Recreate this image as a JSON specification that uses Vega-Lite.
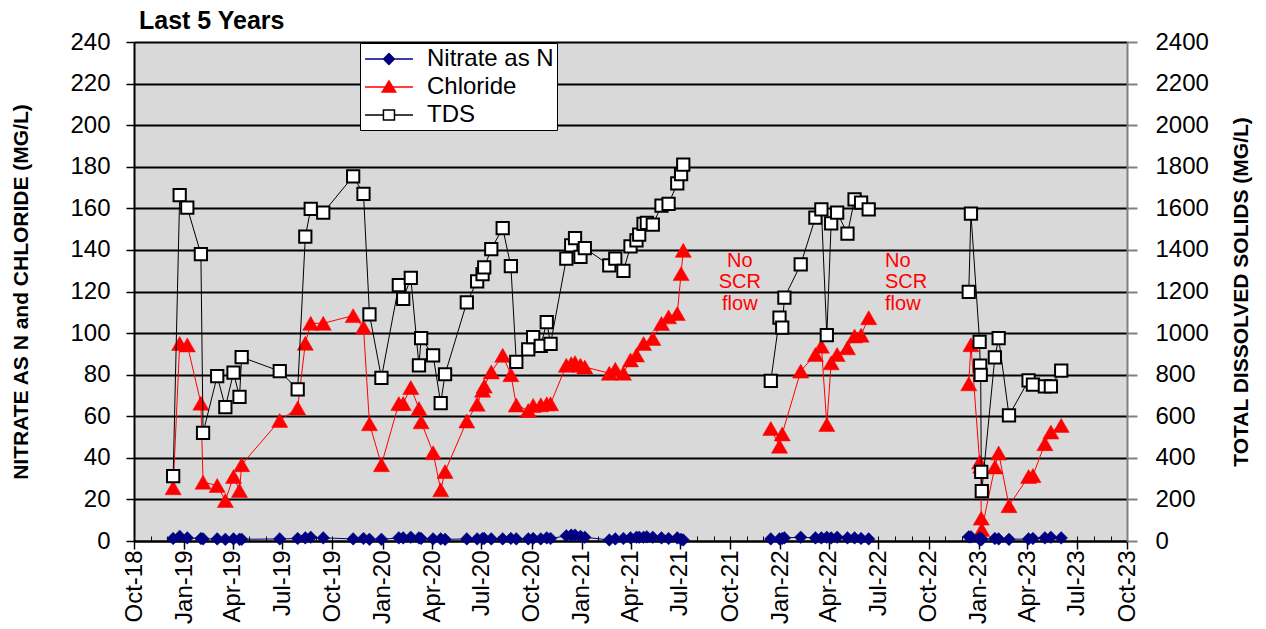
{
  "$schema": "https://vega.github.io/schema/vega-lite/v6.json",
  "width": 993,
  "height": 499,
  "autosize": {"type": "none"},
  "padding": {"left": 134, "top": 42, "right": 139, "bottom": 88},
  "background": "white",
  "title": {"text": "Last 5 Years", "anchor": "start", "frame": "group", "dx": 5, "offset": -24, "baseline": "alphabetic", "fontSize": 25, "font": "Liberation Sans", "fontWeight": "bold", "color": "black"},
  "config": {
    "view": {"fill": "#D9D9D9", "stroke": null},
    "axis": {"labelFont": "Liberation Sans", "titleFont": "Liberation Sans", "labelColor": "#000000", "titleColor": "#000000", "labelFontSize": 24, "titleFontSize": 21, "titleFontWeight": "bold"}
  },
  "datasets": {
    "samples": [
      {"date": "2018-12-12", "nitrate": 1.2, "chloride": 25.6, "tds": 312, "period": 1},
      {"date": "2018-12-24", "nitrate": 2.2, "chloride": 95.0, "tds": 1664, "period": 1},
      {"date": "2019-01-07", "nitrate": 1.5, "chloride": 94.3, "tds": 1603, "period": 1},
      {"date": "2019-02-01", "nitrate": 1.2, "chloride": 66.3, "tds": 1380, "period": 1},
      {"date": "2019-02-05", "nitrate": 1.0, "chloride": 28.3, "tds": 520, "period": 1},
      {"date": "2019-03-03", "nitrate": 1.0, "chloride": 26.7, "tds": 793, "period": 1},
      {"date": "2019-03-18", "nitrate": 0.8, "chloride": 19.5, "tds": 644, "period": 1},
      {"date": "2019-04-02", "nitrate": 1.0, "chloride": 31.0, "tds": 810, "period": 1},
      {"date": "2019-04-13", "nitrate": 0.8, "chloride": 24.3, "tds": 693, "period": 1},
      {"date": "2019-04-17", "nitrate": 0.8, "chloride": 36.7, "tds": 884, "period": 1},
      {"date": "2019-06-26", "nitrate": 1.0, "chloride": 58.0, "tds": 817, "period": 1},
      {"date": "2019-07-29", "nitrate": 1.2, "chloride": 64.0, "tds": 729, "period": 1},
      {"date": "2019-08-12", "nitrate": 1.5, "chloride": 95.1, "tds": 1464, "period": 1},
      {"date": "2019-08-22", "nitrate": 1.8, "chloride": 104.7, "tds": 1597, "period": 1},
      {"date": "2019-09-14", "nitrate": 1.5, "chloride": 104.7, "tds": 1579, "period": 1},
      {"date": "2019-11-08", "nitrate": 1.0, "chloride": 108.4, "tds": 1754, "period": 1},
      {"date": "2019-11-27", "nitrate": 1.2, "chloride": 102.8, "tds": 1670, "period": 1},
      {"date": "2019-12-08", "nitrate": 0.8, "chloride": 56.4, "tds": 1090, "period": 1},
      {"date": "2019-12-30", "nitrate": 0.8, "chloride": 36.7, "tds": 785, "period": 1},
      {"date": "2020-01-31", "nitrate": 1.5, "chloride": 66.1, "tds": 1231, "period": 1},
      {"date": "2020-02-08", "nitrate": 1.5, "chloride": 66.1, "tds": 1164, "period": 1},
      {"date": "2020-02-22", "nitrate": 1.8, "chloride": 73.8, "tds": 1265, "period": 1},
      {"date": "2020-03-08", "nitrate": 1.5, "chloride": 63.7, "tds": 845, "period": 1},
      {"date": "2020-03-12", "nitrate": 1.2, "chloride": 57.3, "tds": 976, "period": 1},
      {"date": "2020-04-03", "nitrate": 1.0, "chloride": 42.5, "tds": 893, "period": 1},
      {"date": "2020-04-17", "nitrate": 1.0, "chloride": 24.6, "tds": 663, "period": 1},
      {"date": "2020-04-25", "nitrate": 0.8, "chloride": 33.4, "tds": 802, "period": 1},
      {"date": "2020-06-04", "nitrate": 1.0, "chloride": 57.7, "tds": 1148, "period": 1},
      {"date": "2020-06-23", "nitrate": 1.0, "chloride": 65.8, "tds": 1249, "period": 1},
      {"date": "2020-07-03", "nitrate": 1.2, "chloride": 72.5, "tds": 1284, "period": 1},
      {"date": "2020-07-06", "nitrate": 1.2, "chloride": 74.5, "tds": 1316, "period": 1},
      {"date": "2020-07-19", "nitrate": 1.0, "chloride": 81.3, "tds": 1404, "period": 1},
      {"date": "2020-08-09", "nitrate": 1.0, "chloride": 89.3, "tds": 1505, "period": 1},
      {"date": "2020-08-24", "nitrate": 1.2, "chloride": 80.0, "tds": 1322, "period": 1},
      {"date": "2020-09-03", "nitrate": 1.0, "chloride": 65.4, "tds": 861, "period": 1},
      {"date": "2020-09-25", "nitrate": 1.0, "chloride": 62.8, "tds": 922, "period": 1},
      {"date": "2020-10-04", "nitrate": 1.2, "chloride": 65.2, "tds": 981, "period": 1},
      {"date": "2020-10-18", "nitrate": 1.0, "chloride": 65.5, "tds": 938, "period": 1},
      {"date": "2020-10-29", "nitrate": 1.5, "chloride": 66.0, "tds": 1053, "period": 1},
      {"date": "2020-11-05", "nitrate": 1.2, "chloride": 66.0, "tds": 948, "period": 1},
      {"date": "2020-12-04", "nitrate": 2.5, "chloride": 84.5, "tds": 1358, "period": 1},
      {"date": "2020-12-13", "nitrate": 2.8, "chloride": 85.3, "tds": 1422, "period": 1},
      {"date": "2020-12-20", "nitrate": 2.8, "chloride": 85.8, "tds": 1457, "period": 1},
      {"date": "2020-12-30", "nitrate": 2.2, "chloride": 84.5, "tds": 1366, "period": 1},
      {"date": "2021-01-07", "nitrate": 1.8, "chloride": 83.7, "tds": 1409, "period": 1},
      {"date": "2021-02-21", "nitrate": 0.5, "chloride": 80.7, "tds": 1326, "period": 1},
      {"date": "2021-03-04", "nitrate": 1.0, "chloride": 82.6, "tds": 1358, "period": 1},
      {"date": "2021-03-19", "nitrate": 1.2, "chloride": 80.7, "tds": 1299, "period": 1},
      {"date": "2021-04-01", "nitrate": 1.5, "chloride": 87.1, "tds": 1417, "period": 1},
      {"date": "2021-04-12", "nitrate": 1.8, "chloride": 89.5, "tds": 1446, "period": 1},
      {"date": "2021-04-17", "nitrate": 1.8, "chloride": null, "tds": 1474, "period": 1},
      {"date": "2021-04-25", "nitrate": 1.8, "chloride": 95.0, "tds": 1525, "period": 1},
      {"date": "2021-05-01", "nitrate": 2.0, "chloride": null, "tds": 1530, "period": 1},
      {"date": "2021-05-12", "nitrate": 1.8, "chloride": 97.4, "tds": 1522, "period": 1},
      {"date": "2021-05-28", "nitrate": 1.5, "chloride": 104.6, "tds": 1613, "period": 1},
      {"date": "2021-06-10", "nitrate": 1.2, "chloride": 107.8, "tds": 1621, "period": 1},
      {"date": "2021-06-26", "nitrate": 1.5, "chloride": 109.4, "tds": 1720, "period": 1},
      {"date": "2021-07-03", "nitrate": 0.8, "chloride": 128.6, "tds": 1765, "period": 1},
      {"date": "2021-07-07", "nitrate": 0.5, "chloride": 139.8, "tds": 1810, "period": 1},
      {"date": "2021-12-15", "nitrate": 1.0, "chloride": 54.1, "tds": 770, "period": 2},
      {"date": "2021-12-31", "nitrate": 1.0, "chloride": 45.6, "tds": 1074, "period": 2},
      {"date": "2022-01-05", "nitrate": 1.2, "chloride": 51.5, "tds": 1026, "period": 2},
      {"date": "2022-01-09", "nitrate": 1.5, "chloride": null, "tds": 1170, "period": 2},
      {"date": "2022-02-08", "nitrate": 1.8, "chloride": 81.7, "tds": 1330, "period": 2},
      {"date": "2022-03-07", "nitrate": 1.5, "chloride": 89.7, "tds": 1555, "period": 2},
      {"date": "2022-03-18", "nitrate": 1.5, "chloride": 93.7, "tds": 1595, "period": 2},
      {"date": "2022-03-28", "nitrate": 1.8, "chloride": 56.0, "tds": 990, "period": 2},
      {"date": "2022-04-05", "nitrate": 1.5, "chloride": 85.7, "tds": 1528, "period": 2},
      {"date": "2022-04-16", "nitrate": 1.8, "chloride": 89.7, "tds": 1579, "period": 2},
      {"date": "2022-05-05", "nitrate": 1.5, "chloride": 92.9, "tds": 1478, "period": 2},
      {"date": "2022-05-18", "nitrate": 1.5, "chloride": 98.6, "tds": 1643, "period": 2},
      {"date": "2022-05-30", "nitrate": 1.2, "chloride": 99.0, "tds": 1627, "period": 2},
      {"date": "2022-06-13", "nitrate": 1.0, "chloride": 107.4, "tds": 1595, "period": 2},
      {"date": "2022-12-14", "nitrate": 2.0, "chloride": 75.6, "tds": 1198, "period": 3},
      {"date": "2022-12-18", "nitrate": 2.0, "chloride": 94.4, "tds": 1575, "period": 3},
      {"date": "2023-01-03", "nitrate": 1.5, "chloride": 38.0, "tds": 958, "period": 3},
      {"date": "2023-01-04", "nitrate": 0.5, "chloride": null, "tds": 843, "period": 3},
      {"date": "2023-01-05", "nitrate": 0.8, "chloride": 36.0, "tds": 799, "period": 3},
      {"date": "2023-01-06", "nitrate": 1.0, "chloride": 11.0, "tds": 332, "period": 3},
      {"date": "2023-01-07", "nitrate": 0.8, "chloride": 5.5, "tds": 240, "period": 3},
      {"date": "2023-01-31", "nitrate": 1.2, "chloride": 35.6, "tds": 883, "period": 3},
      {"date": "2023-02-07", "nitrate": 1.0, "chloride": 42.3, "tds": 976, "period": 3},
      {"date": "2023-02-26", "nitrate": 0.8, "chloride": 17.0, "tds": 604, "period": 3},
      {"date": "2023-04-03", "nitrate": 1.0, "chloride": 31.0, "tds": 772, "period": 3},
      {"date": "2023-04-11", "nitrate": 1.2, "chloride": 31.5, "tds": 752, "period": 3},
      {"date": "2023-05-03", "nitrate": 1.5, "chloride": 46.8, "tds": 744, "period": 3},
      {"date": "2023-05-14", "nitrate": 1.8, "chloride": 52.4, "tds": 744, "period": 3},
      {"date": "2023-06-02", "nitrate": 1.5, "chloride": 55.6, "tds": 820, "period": 3}
    ]
  },
  "data": {"name": "samples"},
  "resolve": {"scale": {"y": "independent"}, "axis": {"x": "independent"}},
  "layer": [
    {
      "mark": {"type": "line", "color": "#000080", "strokeWidth": 1},
      "encoding": {
        "x": {"field": "date", "type": "temporal",
          "scale": {"type": "utc", "nice": false, "domain": [{"year": 2018, "month": 10, "date": 1, "utc": true}, {"year": 2023, "month": 10, "date": 1, "utc": true}]},
          "axis": {"orient": "bottom", "tickCount": {"interval": "month", "step": 3}, "format": "%b-%y", "labelAngle": 270, "labelPadding": 1, "labelOverlap": false, "labelFlush": false, "labelBound": false, "tickSize": 8, "tickColor": "#000000", "tickWidth": 1.5, "domainColor": "#000000", "domainWidth": 2, "grid": false, "title": null}},
        "y": {"field": "nitrate", "type": "quantitative",
          "scale": {"domain": [0, 240], "nice": false},
          "axis": {"orient": "left", "values": [0, 20, 40, 60, 80, 100, 120, 140, 160, 180, 200, 220, 240], "title": "NITRATE AS N and CHLORIDE (MG/L)", "titleAngle": 270, "titleBaseline": "bottom", "titlePadding": 38, "grid": true, "gridColor": "#000000", "gridWidth": 2, "gridOpacity": 1, "domainColor": "#000000", "domainWidth": 2, "tickColor": "#000000", "tickSize": 8, "tickWidth": 1.5, "labelPadding": 16}},
        "detail": {"field": "period", "type": "nominal"}
      }
    },
    {
      "transform": [{"filter": "isValid(datum.chloride)"}],
      "mark": {"type": "line", "color": "#FF0000", "strokeWidth": 1},
      "encoding": {
        "x": {"field": "date", "type": "temporal", "axis": null},
        "y": {"field": "chloride", "type": "quantitative", "scale": {"domain": [0, 240], "nice": false}, "axis": null},
        "detail": {"field": "period", "type": "nominal"}
      }
    },
    {
      "transform": [{"filter": "isValid(datum.chloride)"}],
      "mark": {"type": "point", "shape": "triangle-up", "filled": true, "stroke": "#FF0000", "strokeWidth": 0.5, "size": 260, "opacity": 1},
      "encoding": {
        "x": {"field": "date", "type": "temporal", "axis": null},
        "y": {"field": "chloride", "type": "quantitative", "scale": {"domain": [0, 240], "nice": false}, "axis": null},
        "fill": {"datum": "Chloride"}
      }
    },
    {
      "mark": {"type": "point", "shape": "diamond", "filled": true, "stroke": "#000080", "strokeWidth": 0.5, "size": 160, "opacity": 1},
      "encoding": {
        "x": {"field": "date", "type": "temporal", "axis": null},
        "y": {"field": "nitrate", "type": "quantitative", "scale": {"domain": [0, 240], "nice": false}, "axis": null},
        "fill": {"datum": "Nitrate as N",
          "scale": {"domain": ["Nitrate as N", "Chloride", "TDS"], "range": ["#000080", "#FF0000", "#FFFFFF"]},
          "legend": {"orient": "none", "legendX": 226, "legendY": 1, "title": null, "fillColor": "#FFFFFF", "strokeColor": "#000000", "padding": 3, "rowPadding": 3, "labelFont": "Liberation Sans", "labelFontSize": 24, "labelColor": "#000000", "labelOffset": 38, "symbolSize": 576,
            "encoding": {"symbols": {
              "shape": {"value": {"expr": "datum.value === 'Nitrate as N' ? 'M-0.92,0H3.08M1.08,-0.45L1.53,0L1.08,0.45L0.63,0Z' : datum.value === 'Chloride' ? 'M-0.92,0H3.08M1.08,-0.5L1.64,0.42L0.52,0.42Z' : 'M-0.92,0H0.62M1.54,0H3.08M0.62,-0.42H1.54V0.42H0.62Z'"}},
              "stroke": {"value": {"expr": "datum.value === 'Nitrate as N' ? '#000080' : datum.value === 'Chloride' ? '#FF0000' : '#000000'"}},
              "size": {"value": 576},
              "strokeWidth": {"value": 1.5},
              "opacity": {"value": 1}
            }}}}
      }
    },
    {
      "data": {"values": [{"date": "2021-10-19", "value": 132, "note": "No\nSCR\nflow"}]},
      "mark": {"type": "text", "align": "center", "baseline": "alphabetic", "lineBreak": "\n", "lineHeight": 21.5, "fontSize": 20, "font": "Liberation Sans", "color": "#FF0000"},
      "encoding": {
        "x": {"field": "date", "type": "temporal", "axis": null},
        "y": {"field": "value", "type": "quantitative", "scale": {"domain": [0, 240], "nice": false}, "axis": null},
        "text": {"field": "note", "type": "nominal"}
      }
    },
    {
      "data": {"values": [{"date": "2022-07-13", "value": 132, "note": "No\nSCR\nflow"}]},
      "mark": {"type": "text", "align": "left", "baseline": "alphabetic", "lineBreak": "\n", "lineHeight": 21.5, "fontSize": 20, "font": "Liberation Sans", "color": "#FF0000"},
      "encoding": {
        "x": {"field": "date", "type": "temporal", "axis": null},
        "y": {"field": "value", "type": "quantitative", "scale": {"domain": [0, 240], "nice": false}, "axis": null},
        "text": {"field": "note", "type": "nominal"}
      }
    },
    {
      "mark": {"type": "line", "color": "#000000", "strokeWidth": 1},
      "encoding": {
        "x": {"field": "date", "type": "temporal",
          "axis": {"orient": "bottom", "tickCount": {"interval": "month", "step": 1}, "labels": false, "domain": false, "grid": false, "tickSize": -5, "tickColor": "#000000", "tickWidth": 1, "title": null}},
        "y": {"field": "tds", "type": "quantitative",
          "scale": {"domain": [0, 2400], "nice": false},
          "axis": {"orient": "right", "values": [0, 200, 400, 600, 800, 1000, 1200, 1400, 1600, 1800, 2000, 2200, 2400], "format": "d", "title": "TOTAL DISSOLVED SOLIDS (MG/L)", "titleAngle": 270, "titleBaseline": "top", "titlePadding": 22, "grid": false, "domainColor": "#808080", "domainWidth": 2, "tickColor": "#808080", "tickSize": 10, "tickWidth": 2, "labelPadding": 18}},
        "detail": {"field": "period", "type": "nominal"}
      }
    },
    {
      "mark": {"type": "point", "shape": "square", "filled": true, "stroke": "#000000", "strokeWidth": 2, "size": 150, "opacity": 1},
      "encoding": {
        "x": {"field": "date", "type": "temporal", "axis": null},
        "y": {"field": "tds", "type": "quantitative", "scale": {"domain": [0, 2400], "nice": false}, "axis": null},
        "fill": {"datum": "TDS"}
      }
    }
  ]
}
